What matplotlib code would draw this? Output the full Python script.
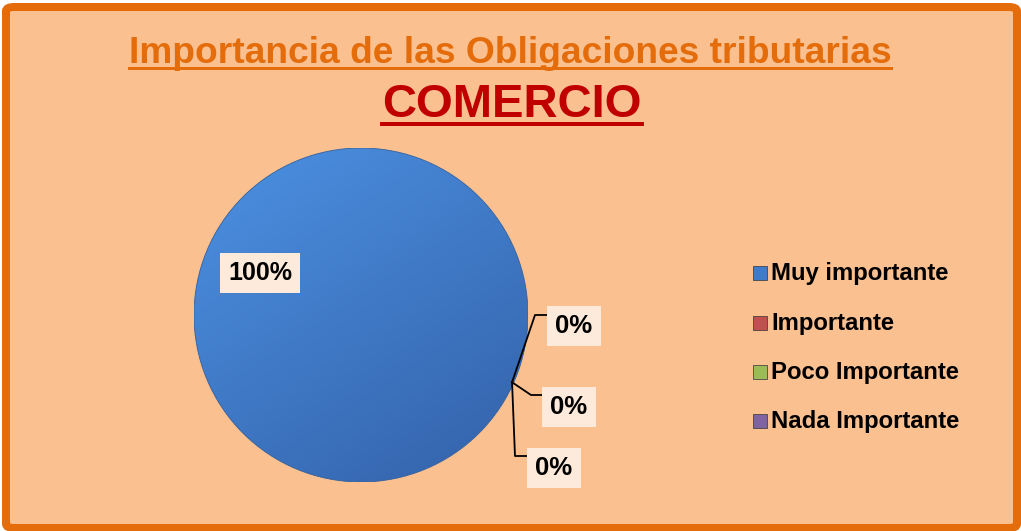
import numpy as np
import matplotlib
matplotlib.use("Agg")
import matplotlib.pyplot as plt
from matplotlib.patches import FancyBboxPatch, Rectangle, Circle
from matplotlib.lines import Line2D

# ---- data ----
categories = ["Muy importante", "Importante", "Poco Importante", "Nada Importante"]
values = [100, 0, 0, 0]
pct_labels = ["100%", "0%", "0%", "0%"]
title = "Importancia de las Obligaciones tributarias"
subtitle = "COMERCIO"
colors = ["#3F7BCB", "#C0504D", "#9BBB59", "#8064A2"]

plt.rcParams['font.family'] = ['Liberation Sans', 'DejaVu Sans']

W, H = 1021, 531
fig = plt.figure(figsize=(W / 100, H / 100), dpi=100)
fig.patch.set_facecolor("white")

def fx(px):
    return px / W

def fy(py):
    return 1 - py / H

# background panel with border
panel = FancyBboxPatch((fx(6), fy(528)), fx(1017) - fx(6), fy(7) - fy(528),
                       boxstyle="round,pad=0,rounding_size=0.008",
                       transform=fig.transFigure, facecolor="#FAC090",
                       edgecolor="#E46C0A", linewidth=8 * 72 / 100, zorder=-10)
fig.patches.append(panel)

# ---- pie ----
cx, cy, R = 361, 315, 167
ax = fig.add_axes([fx(cx - R), fy(cy + R), (2 * R) / W, (2 * R) / H])
ax.set_zorder(1)
ax.patch.set_visible(False)
ax.axis("off")

wedges, _ = ax.pie(values, colors=colors, startangle=-24, counterclock=False,
                   radius=1, wedgeprops=dict(linewidth=0))

# gradient shading over the (full) main slice
share = values[0] / sum(values)
clip = Circle((0, 0), wedges[0].r, transform=ax.transData)
yy, xx = np.mgrid[1:-1:300j, -1:1:300j]
t = np.clip(0.5 - 0.2 * xx + 0.3 * yy, 0, 1)
top = np.array([0.30, 0.57, 0.89])
bot = np.array([0.20, 0.38, 0.66])
img = bot[None, None, :] * (1 - t[..., None]) + top[None, None, :] * t[..., None]
if share >= 0.999:
    im = ax.imshow(img, extent=(-1, 1, -1, 1), zorder=2, interpolation="bilinear")
    im.set_clip_path(clip)
ax.add_patch(Circle((0, 0), wedges[0].r, fill=False, edgecolor="#33619F",
                    lw=0.6, zorder=3))
ax.set_xlim(-1, 1)
ax.set_ylim(-1, 1)

def p2d(px, py):
    return ((px - cx) / R, (cy - py) / R)

box = dict(boxstyle="square,pad=0.32", facecolor="#FDEADA", edgecolor="none")

# label of main slice
lx, ly = p2d(260, 273)
ax.text(lx, ly, pct_labels[0], fontsize=18, fontweight="bold", ha="center",
        va="center", bbox=box, zorder=5)

# zero slices: leader lines from wedge edge
ang = np.deg2rad(wedges[1].theta1)
ex, ey = 0.99 * np.cos(ang), 0.99 * np.sin(ang)
label_pos = [(574, 326), (569, 407), (554, 468)]
elbows = [((535, 315), (547, 315)), ((531, 395), (542, 395)), ((515, 456), (527, 456))]
for i, (pos, (e1, e2)) in enumerate(zip(label_pos, elbows)):
    p1 = p2d(*e1)
    p2 = p2d(*e2)
    ax.add_line(Line2D([ex, p1[0], p2[0]], [ey, p1[1], p2[1]], color="black",
                       lw=1.3, clip_on=False, zorder=4))
    tx, ty = p2d(*pos)
    ax.text(tx, ty, pct_labels[i + 1], fontsize=18.5, fontweight="bold",
            ha="center", va="center", bbox=box, zorder=5)

# ---- titles ----
t1 = fig.text(fx(510), fy(63), title, fontsize=26.7, fontweight="bold",
              color="#E46C0A", ha="center", va="baseline")
t2 = fig.text(fx(512), fy(117), subtitle, fontsize=34, fontweight="bold",
              color="#C00000", ha="center", va="baseline")

# ---- legend ----
leg_y = [273, 323, 372, 421]
for c, lab, y in zip(colors, categories, leg_y):
    fig.patches.append(Rectangle((fx(753), fy(y + 7)), 14 / W, 14 / H,
                                 transform=fig.transFigure, facecolor=c,
                                 edgecolor="#333333", lw=0.5, zorder=3))
    fig.text(fx(771), fy(y + 7), lab, fontsize=17.2, fontweight="bold",
             color="black", ha="left", va="baseline")

# underlines
fig.canvas.draw()
r = fig.canvas.get_renderer()
for txt, ypx, lw in [(t1, 68, 3), (t2, 123.5, 4)]:
    bb = txt.get_window_extent(r)
    fig.add_artist(Line2D([bb.x0 / W, bb.x1 / W], [fy(ypx), fy(ypx)],
                          transform=fig.transFigure, color=txt.get_color(),
                          lw=lw * 72 / 100))

fig.savefig("out.png", dpi=100, facecolor=fig.get_facecolor())
